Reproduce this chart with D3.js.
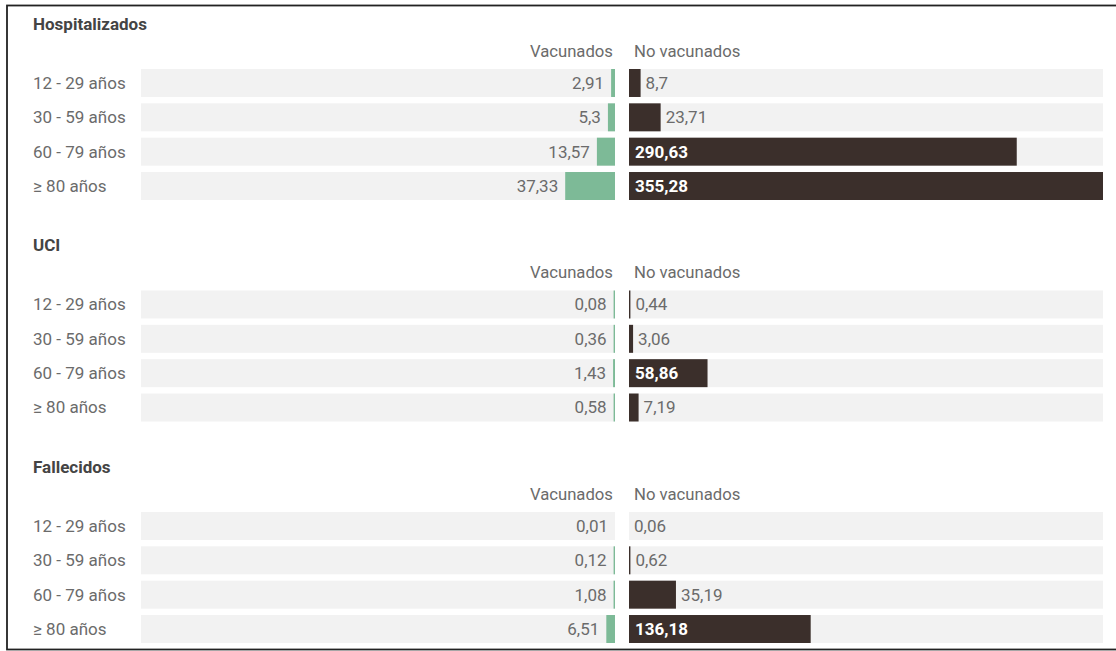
<!DOCTYPE html>
<html>
<head>
<meta charset="utf-8">
<script src="https://cdn.jsdelivr.net/npm/d3@7"></script>
<style>
  body { margin: 0; background: #fff; }
  svg { display: block; font-family: Roboto, sans-serif; }
</style>
</head>
<body>
<script>
const groups = ["Hospitalizados", "UCI", "Fallecidos"];
const ageGroups = ["12 - 29 años", "30 - 59 años", "60 - 79 años", "≥ 80 años"];
const seriesNames = ["Vacunados", "No vacunados"];

const hospVacunados = [2.91, 5.3, 13.57, 37.33];
const hospNoVacunados = [8.7, 23.71, 290.63, 355.28];
const uciVacunados = [0.08, 0.36, 1.43, 0.58];
const uciNoVacunados = [0.44, 3.06, 58.86, 7.19];
const fallVacunados = [0.01, 0.12, 1.08, 6.51];
const fallNoVacunados = [0.06, 0.62, 35.19, 136.18];

const vacSeries = [hospVacunados, uciVacunados, fallVacunados];
const noVacSeries = [hospNoVacunados, uciNoVacunados, fallNoVacunados];

const width = 1116, height = 651;
const green = "#7dba97", dark = "#3b2f2b", rowBg = "#f2f2f2";
const textGray = "#6b6b6b";

const svg = d3.select("body").append("svg")
  .attr("width", width)
  .attr("height", height);

// frame (open on the right like the screenshot)
svg.append("rect")
  .attr("x", 7).attr("y", 5.5)
  .attr("width", 1130).attr("height", 644)
  .attr("fill", "none")
  .attr("stroke", "#222")
  .attr("stroke-width", 1.8);

const maxVal = d3.max(noVacSeries.concat(vacSeries).flat());
const xRight = d3.scaleLinear().domain([0, maxVal]).range([629, 1103]);
const xLeft = d3.scaleLinear().domain([0, maxVal]).range([615, 141]);

const panelY = d3.scaleBand().domain(groups).range([0, 664.5]);
const rowY = d3.scaleBand().domain(ageGroups).range([0, 131]).paddingInner(0.185);

const fmt = v => String(v).replace(".", ",");
const barW = (x, v) => v >= 0.075 ? Math.max(1.4, Math.abs(x(v) - x(0))) : 0;

groups.forEach((g, gi) => {
  const panel = svg.append("g")
    .attr("transform", `translate(0,${panelY(g)})`);

  panel.append("text")
    .attr("x", 33).attr("y", 24)
    .attr("dy", "0.35em")
    .style("font-size", "17px")
    .style("font-weight", "bold")
    .attr("fill", "#444")
    .text(g);

  panel.append("text")
    .attr("x", 613).attr("y", 51)
    .attr("dy", "0.35em")
    .attr("text-anchor", "end")
    .style("font-size", "16.7px")
    .attr("fill", textGray)
    .text(seriesNames[0]);

  panel.append("text")
    .attr("x", 634).attr("y", 51)
    .attr("dy", "0.35em")
    .style("font-size", "16.7px")
    .attr("fill", textGray)
    .text(seriesNames[1]);

  const rows = panel.append("g")
    .attr("transform", "translate(0,69)")
    .selectAll("g")
    .data(ageGroups.map((a, i) => ({ age: a, vac: vacSeries[gi][i], noVac: noVacSeries[gi][i] })))
    .join("g")
    .attr("transform", d => `translate(0,${rowY(d.age)})`);

  const h = rowY.bandwidth();

  rows.append("text")
    .attr("x", 33).attr("y", h / 2)
    .attr("dy", "0.35em")
    .style("font-size", "17px")
    .attr("fill", textGray)
    .text(d => d.age);

  rows.append("rect")
    .attr("x", xLeft(maxVal)).attr("y", 0)
    .attr("width", xLeft(0) - xLeft(maxVal)).attr("height", h)
    .attr("fill", rowBg);

  rows.append("rect")
    .attr("x", xRight(0)).attr("y", 0)
    .attr("width", xRight(maxVal) - xRight(0)).attr("height", h)
    .attr("fill", rowBg);

  rows.append("rect")
    .attr("x", d => xLeft(0) - barW(xLeft, d.vac))
    .attr("y", 0)
    .attr("width", d => barW(xLeft, d.vac))
    .attr("height", h)
    .attr("fill", green);

  rows.append("rect")
    .attr("x", xRight(0))
    .attr("y", 0)
    .attr("width", d => barW(xRight, d.noVac))
    .attr("height", h)
    .attr("fill", dark);

  // vacunados labels, always outside the small bars
  rows.append("text")
    .attr("x", d => xLeft(0) - barW(xLeft, d.vac) - 7)
    .attr("y", h / 2)
    .attr("dy", "0.35em")
    .attr("text-anchor", "end")
    .style("font-size", "17px")
    .attr("fill", textGray)
    .text(d => fmt(d.vac));

  // no vacunados labels: inside when the bar is wide enough
  rows.append("text")
    .each(function(d) {
      const w = barW(xRight, d.noVac);
      const inside = w > 60;
      d3.select(this)
        .attr("x", inside ? xRight(0) + 6 : xRight(0) + w + 5)
        .attr("fill", inside ? "#fff" : textGray)
        .style("font-weight", inside ? "bold" : "normal");
    })
    .attr("y", h / 2)
    .attr("dy", "0.35em")
    .style("font-size", "17px")
    .text(d => fmt(d.noVac));
});
</script>
</body>
</html>
